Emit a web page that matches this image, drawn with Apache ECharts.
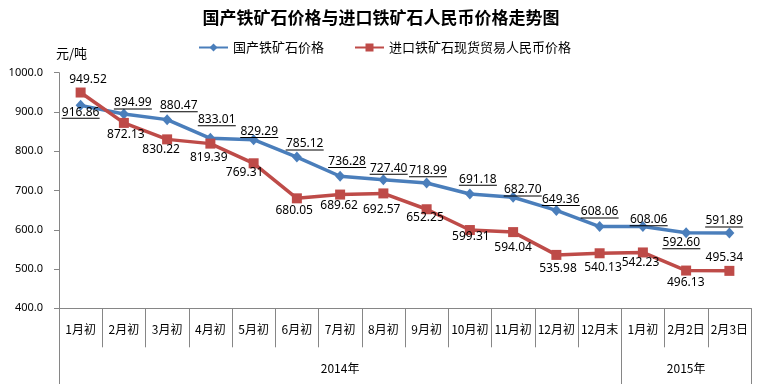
<!DOCTYPE html>
<html>
<head>
<meta charset="utf-8">
<script src="https://cdn.jsdelivr.net/npm/echarts@6/dist/echarts.min.js"></script>
<style>html,body{margin:0;padding:0;background:#fff}#c{width:762px;height:384px}</style>
</head>
<body>
<div id="c"></div>
<script>
const categories = ['1月初','2月初','3月初','4月初','5月初','6月初','7月初','8月初','9月初','10月初','11月初','12月初','12月末','1月初','2月2日','2月3日'];
const yearLabels = ['','','','','','','2014年','','','','','','','','2015年',''];
const yearStarts = [0, 13];
const domestic = [916.86, 894.99, 880.47, 833.01, 829.29, 785.12, 736.28, 727.40, 718.99, 691.18, 682.70, 649.36, 608.06, 608.06, 592.60, 591.89];
const imported = [949.52, 872.13, 830.22, 819.39, 769.31, 680.05, 689.62, 692.57, 652.25, 599.31, 594.04, 535.98, 540.13, 542.23, 496.13, 495.34];
const yMin = 400, yMax = 1000, yStep = 100;

// label placement (style only)
const domesticLabelOffsets = [[0,7],[9,-11],[11.6,-14],[6.4,-18.6],[5.6,-8.3],[7.8,-13],[7,-14.7],[5.3,-11.6],[1.4,-12.2],[8,-14.8],[9.6,-7.3],[4.4,-10.8],[0,-14.6],[5.8,-6.8],[-4.8,10],[-5.2,-12]];
const importedLabelOffsets = [[7.4,-13.3],[2,11.8],[-6,10.3],[-1.6,13.5],[-9,9.3],[-2.7,12.7],[-1,11.4],[-1.7,15.9],[-1.6,8.6],[1,6.8],[0,15],[1.6,13.6],[3.4,14.2],[-2.4,10.3],[-0.4,11.8],[-5,-12.8]];

const FONT = '"Noto Sans", "Noto Sans CJK SC", sans-serif';
const CJK = '"Noto Sans CJK SC", sans-serif';
const gray = '#868686';
const blue = '#4A7EBB';
const red = '#BE4B48';

const chart = echarts.init(document.getElementById('c'), null, {renderer: 'canvas'});

const blueData = domestic.map((v, i) => ({
  value: v,
  label: {offset: [domesticLabelOffsets[i][0], domesticLabelOffsets[i][1] + 1.5]}
}));
const redData = imported.map((v, i) => ({
  value: v,
  label: {offset: importedLabelOffsets[i]}
}));

chart.setOption({
  animation: false,
  backgroundColor: '#fff',
  textStyle: {fontFamily: FONT},
  title: [
    {text: '国产铁矿石价格与进口铁矿石人民币价格走势图', left: 'center', top: 4,
     textStyle: {fontSize: 17, fontWeight: 'bold', color: '#000', fontFamily: CJK}},
    {text: '元/吨', left: 51, top: 42,
     textStyle: {fontSize: 13, fontWeight: 'normal', color: '#000', fontFamily: CJK}}
  ],
  legend: {
    left: 193, top: 36,
    itemWidth: 29, itemHeight: 10, itemGap: 30,
    textStyle: {fontSize: 13, color: '#000', fontFamily: CJK},
    data: ['国产铁矿石价格', '进口铁矿石现货贸易人民币价格']
  },
  grid: {left: 59, right: 11, top: 72.7, bottom: 75.7, containLabel: false},
  xAxis: [
    {
      type: 'category', data: categories, boundaryGap: true,
      axisLine: {lineStyle: {color: gray, width: 1}},
      axisTick: {show: true, length: 39, interval: 0, lineStyle: {color: gray}},
      axisLabel: {interval: 0, margin: 15, fontSize: 12, color: '#000', fontFamily: CJK},
      splitLine: {show: false}
    },
    {
      type: 'category', data: yearLabels, boundaryGap: true, position: 'bottom',
      axisLine: {show: false},
      axisTick: {show: true, length: 76, interval: (i) => yearStarts.indexOf(i) >= 0, lineStyle: {color: gray}},
      axisLabel: {interval: 0, margin: 54, fontSize: 12, color: '#000', fontFamily: CJK},
      splitLine: {show: false}
    }
  ],
  yAxis: {
    type: 'value', min: yMin, max: yMax, interval: yStep,
    axisLine: {show: true, lineStyle: {color: gray}},
    axisTick: {show: true, length: 5, lineStyle: {color: gray}},
    splitLine: {show: false},
    axisLabel: {margin: 16, fontSize: 11, color: '#000', formatter: (v) => v.toFixed(1)}
  },
  series: [
    {
      name: '国产铁矿石价格', type: 'line', data: blueData,
      symbol: 'diamond', symbolSize: [10, 11],
      lineStyle: {color: blue, width: 3.5},
      itemStyle: {color: blue},
      label: {
        show: true, position: 'inside',
        formatter: (p) => '{v|' + p.value.toFixed(2) + '}\n{u|}',
        rich: {
          v: {fontSize: 12, lineHeight: 9, color: '#000', fontFamily: FONT},
          u: {width: 38, height: 1, lineHeight: 3, backgroundColor: '#000'}
        }
      }
    },
    {
      name: '进口铁矿石现货贸易人民币价格', type: 'line', data: redData,
      symbol: 'rect', symbolSize: 10,
      lineStyle: {color: red, width: 3.5},
      itemStyle: {color: red},
      label: {
        show: true, position: 'inside', color: '#000', fontSize: 12, fontFamily: FONT,
        formatter: (p) => p.value.toFixed(2)
      }
    }
  ]
});
</script>
</body>
</html>
